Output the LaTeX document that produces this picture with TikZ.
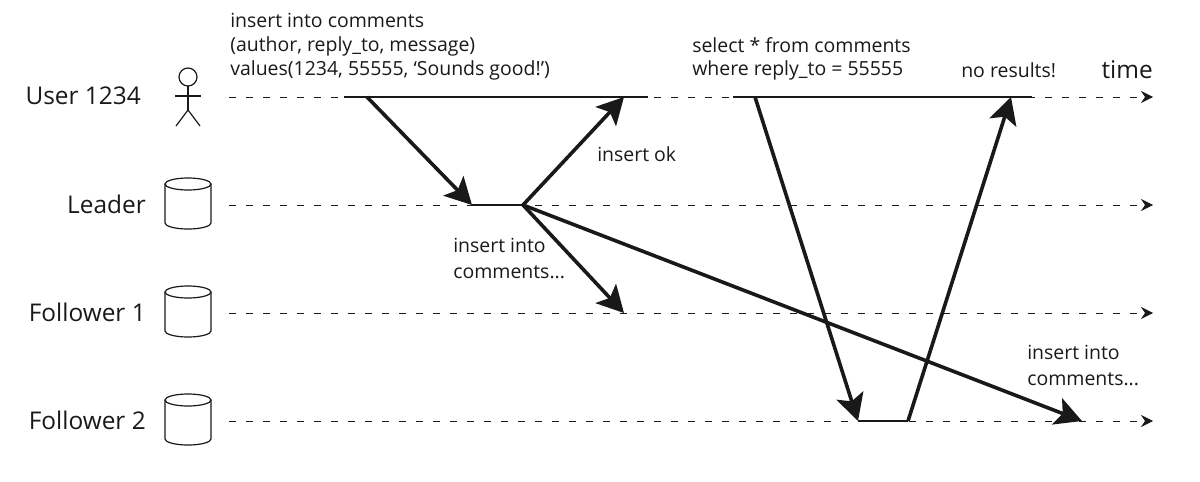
\documentclass[tikz,border=0pt]{standalone}
\usepackage{fontspec}
\setmainfont{Open Sans}
\usetikzlibrary{arrows.meta}

\begin{document}
\begin{tikzpicture}[x=0.75pt,y=-0.75pt,
	inkcol/.style={color=black!90},
	timeline/.style={inkcol,line width=0.75pt,dash pattern=on 5.25pt off 7.5pt,-{Stealth[length=9pt,width=9pt,inset=3pt]}},
	busy/.style={inkcol,line width=2pt},
	msg/.style={inkcol,line width=2.7pt,-{Stealth[length=20pt,width=21pt,inset=4.5pt]}},
	figure/.style={inkcol,line width=0.9pt},
	rowlabel/.style={inkcol,anchor=east,font=\fontsize{18.3}{22}\selectfont,inner sep=0pt},
	note/.style={inkcol,anchor=north west,align=left,font=\fontsize{14.6}{17.8}\selectfont,inner sep=0pt},
	widenote/.style={note,font=\fontsize{14.6}{19.8}\selectfont},
	db/.pic={
		\draw[figure] (0,-21) ellipse [x radius=23,y radius=6];
		\draw[figure] (-23,-21) -- (-23,18) arc [start angle=180,end angle=0,x radius=23,y radius=6] -- (23,-21);
	},
	]

	\useasboundingbox (0,0) rectangle (1200,482);

% coordinate %{{{2

	\coordinate (U0) at (229,97);
	\coordinate (U1) at (1153,97);
	\coordinate (L0) at (229,205);
	\coordinate (L1) at (1153,205);
	\coordinate (A0) at (229,313);
	\coordinate (A1) at (1153,313);
	\coordinate (B0) at (229,421);
	\coordinate (B1) at (1153,421);

	\coordinate (insertstart) at (344,97);
	\coordinate (insertsend) at (367,97);
	\coordinate (insertback) at (624,97);
	\coordinate (insertend) at (648,97);
	\coordinate (selectstart) at (733,97);
	\coordinate (selectsend) at (755,97);
	\coordinate (selectback) at (1011,97);
	\coordinate (selectend) at (1032,97);
	\coordinate (leaderin) at (472,205);
	\coordinate (leaderout) at (523,205);
	\coordinate (followerA) at (624,313);
	\coordinate (followerB) at (1082,421);
	\coordinate (readin) at (858,421);
	\coordinate (readout) at (908,421);

	\coordinate (head) at (188,77);
	\coordinate (neck) at (188,86);
	\coordinate (hip) at (188,110);
	\coordinate (armL) at (175,96);
	\coordinate (armR) at (201,96);
	\coordinate (legL) at (176,126);
	\coordinate (legR) at (200,126);

% time axes %{{{2

	\draw[timeline] (U0) -- (U1);
	\draw[timeline] (L0) -- (L1);
	\draw[timeline] (A0) -- (A1);
	\draw[timeline] (B0) -- (B1);

% row labels %{{{2

	\node[rowlabel] (user) at (141,96) {User 1234};
	\node[rowlabel] (leader) at (146,204) {Leader};
	\node[rowlabel] (follower1) at (146,312) {Follower 1};
	\node[rowlabel] (follower2) at (146,420) {Follower 2};

% stick figure %{{{2

	\draw[figure] (head) circle (9);
	\draw[figure] (neck) -- (hip);
	\draw[figure] (armL) -- (armR);
	\draw[figure] (legL) -- (hip) -- (legR);

% databases %{{{2

	\pic at (188,205) {db};
	\pic at (188,313) {db};
	\pic at (188,421) {db};

% busy periods %{{{2

	\draw[busy] (insertstart) -- (insertend);
	\draw[busy] (selectstart) -- (selectend);
	\draw[busy] (leaderin) -- (leaderout);
	\draw[busy] (readin) -- (readout);

% messages %{{{2

	\draw[msg] (insertsend) -- (leaderin);
	\draw[msg] (leaderout) -- (insertback);
	\draw[msg] (leaderout) -- (followerA);
	\draw[msg] (leaderout) -- (followerB);
	\draw[msg] (selectsend) -- (readin);
	\draw[msg] (readout) -- (selectback);

% message labels %{{{2

	\node[note] (insertsql) at (230,13) {insert into comments\\(author, reply\_to, message)\\values(1234, 55555, ‘Sounds good!’)};
	\node[note] (selectsql) at (692,37) {select * from comments\\where reply\_to = 55555};
	\node[note] (noresults) at (961,62) {no results!};
	\node[note] (insertok) at (597,146) {insert ok};
	\node[widenote] (replicateA) at (453,238) {insert into\\comments...};
	\node[widenote] (replicateB) at (1027,345) {insert into\\comments...};
	\node[rowlabel] (timelabel) at (1153,70) {time};

\end{tikzpicture}
\end{document}
